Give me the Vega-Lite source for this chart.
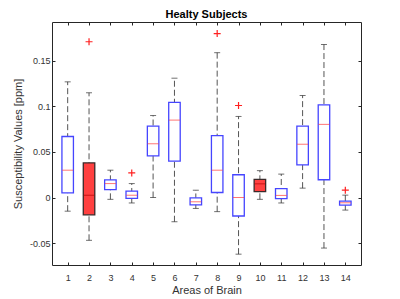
{
  "$schema": "https://vega.github.io/schema/vega-lite/v6.json",
  "width": 309,
  "height": 243,
  "autosize": {"type": "none"},
  "padding": {"left": 52, "top": 22, "right": 39, "bottom": 34},
  "background": "white",
  "title": {"text": "Healty Subjects", "fontSize": 11, "fontWeight": "bold", "font": "Liberation Sans", "color": "#000000", "offset": 2},
  "config": {
    "view": {"stroke": "#262626", "strokeWidth": 1},
    "axis": {
      "domain": false,
      "grid": false,
      "tickSize": -3,
      "tickColor": "#262626",
      "labelFont": "Liberation Sans",
      "labelFontSize": 9,
      "labelColor": "#333333",
      "titleFont": "Liberation Sans",
      "titleFontSize": 11,
      "titleFontWeight": "normal",
      "titleColor": "#333333"
    }
  },
  "datasets": {
    "boxes": [
      {"area": 1, "lo": -0.015, "q1": 0.005, "med": 0.030, "q3": 0.067, "hi": 0.127, "filled": "no"},
      {"area": 2, "lo": -0.047, "q1": -0.019, "med": 0.0025, "q3": 0.038, "hi": 0.115, "filled": "yes"},
      {"area": 3, "lo": -0.002, "q1": 0.0086, "med": 0.0153, "q3": 0.0193, "hi": 0.030, "filled": "no"},
      {"area": 4, "lo": -0.006, "q1": -0.001, "med": 0.0025, "q3": 0.007, "hi": 0.0153, "filled": "no"},
      {"area": 5, "lo": 0.0, "q1": 0.0458, "med": 0.059, "q3": 0.0783, "hi": 0.090, "filled": "no"},
      {"area": 6, "lo": -0.0266, "q1": 0.040, "med": 0.085, "q3": 0.1044, "hi": 0.131, "filled": "no"},
      {"area": 7, "lo": -0.012, "q1": -0.008, "med": -0.0047, "q3": -0.0003, "hi": 0.008, "filled": "no"},
      {"area": 8, "lo": -0.0155, "q1": 0.0055, "med": 0.030, "q3": 0.068, "hi": 0.159, "filled": "no"},
      {"area": 9, "lo": -0.0622, "q1": -0.0203, "med": 0.0, "q3": 0.025, "hi": 0.089, "filled": "no"},
      {"area": 10, "lo": -0.002, "q1": 0.0064, "med": 0.015, "q3": 0.020, "hi": 0.0295, "filled": "yes"},
      {"area": 11, "lo": -0.006, "q1": -0.0013, "med": 0.0023, "q3": 0.0097, "hi": 0.0257, "filled": "no"},
      {"area": 12, "lo": 0.0103, "q1": 0.0358, "med": 0.0585, "q3": 0.0783, "hi": 0.112, "filled": "no"},
      {"area": 13, "lo": -0.0555, "q1": 0.0195, "med": 0.0803, "q3": 0.1018, "hi": 0.168, "filled": "no"},
      {"area": 14, "lo": -0.0138, "q1": -0.0084, "med": -0.0058, "q3": -0.004, "hi": 0.0026, "filled": "no"}
    ],
    "outliers": [
      {"area": 2, "value": 0.171},
      {"area": 4, "value": 0.027},
      {"area": 8, "value": 0.180},
      {"area": 9, "value": 0.101},
      {"area": 14, "value": 0.008}
    ]
  },
  "layer": [
    {
      "data": {"name": "boxes"},
      "mark": {"type": "rule", "color": "#555555", "strokeWidth": 1, "strokeDash": [6, 3]},
      "encoding": {
        "x": {"field": "area", "type": "quantitative", "scale": {"domain": [0.5, 14.5], "nice": false, "zero": false},
          "axis": {"orient": "bottom", "values": [1,2,3,4,5,6,7,8,9,10,11,12,13,14], "labelPadding": 11, "title": "Areas of Brain", "titlePadding": 2}},
        "y": {"field": "lo", "type": "quantitative", "scale": {"domain": [-0.0741, 0.1927], "nice": false, "zero": false},
          "axis": {"orient": "left", "values": [-0.05, 0, 0.05, 0.1, 0.15], "labelPadding": 5, "labelExpr": "replace(format(datum.value, '~g'), '\u2212', '-')", "title": "Susceptibility Values [ppm]", "titlePadding": 6}},
        "y2": {"field": "hi"}
      }
    },
    {
      "data": {"name": "boxes"},
      "mark": {"type": "tick", "orient": "horizontal", "size": 6, "thickness": 1, "color": "#333333"},
      "encoding": {
        "x": {"field": "area", "type": "quantitative", "axis": null},
        "y": {"field": "lo", "type": "quantitative", "axis": null}
      }
    },
    {
      "data": {"name": "boxes"},
      "mark": {"type": "tick", "orient": "horizontal", "size": 6, "thickness": 1, "color": "#333333"},
      "encoding": {
        "x": {"field": "area", "type": "quantitative", "axis": null},
        "y": {"field": "hi", "type": "quantitative", "axis": null}
      }
    },
    {
      "data": {"name": "boxes"},
      "mark": {"type": "bar", "width": 11.5, "strokeWidth": 1.3},
      "encoding": {
        "x": {"field": "area", "type": "quantitative", "axis": null},
        "y": {"field": "q1", "type": "quantitative", "axis": null},
        "y2": {"field": "q3"},
        "fill": {"field": "filled", "type": "nominal", "scale": {"domain": ["no", "yes"], "range": ["#ffffff", "#ff4040"]}, "legend": null},
        "stroke": {"field": "filled", "type": "nominal", "scale": {"domain": ["no", "yes"], "range": ["#4545ff", "#3a2a2a"]}, "legend": null}
      }
    },
    {
      "data": {"name": "boxes"},
      "mark": {"type": "tick", "orient": "horizontal", "size": 11, "thickness": 1},
      "encoding": {
        "x": {"field": "area", "type": "quantitative", "axis": null},
        "y": {"field": "med", "type": "quantitative", "axis": null},
        "color": {"field": "filled", "type": "nominal", "scale": {"domain": ["no", "yes"], "range": ["#ff3a3a", "#b00000"]}, "legend": null}
      }
    },
    {
      "data": {"name": "outliers"},
      "mark": {"type": "point", "shape": "M-1,0H1M0,-1V1", "size": 49, "filled": false, "stroke": "#ff2020", "strokeWidth": 1.2, "opacity": 1},
      "encoding": {
        "x": {"field": "area", "type": "quantitative",
          "axis": {"orient": "top", "values": [1,2,3,4,5,6,7,8,9,10,11,12,13,14], "labels": false, "title": null}},
        "y": {"field": "value", "type": "quantitative",
          "axis": {"orient": "right", "values": [-0.05, 0, 0.05, 0.1, 0.15], "labels": false, "title": null}}
      }
    }
  ],
  "resolve": {"axis": {"x": "independent", "y": "independent"}}
}
